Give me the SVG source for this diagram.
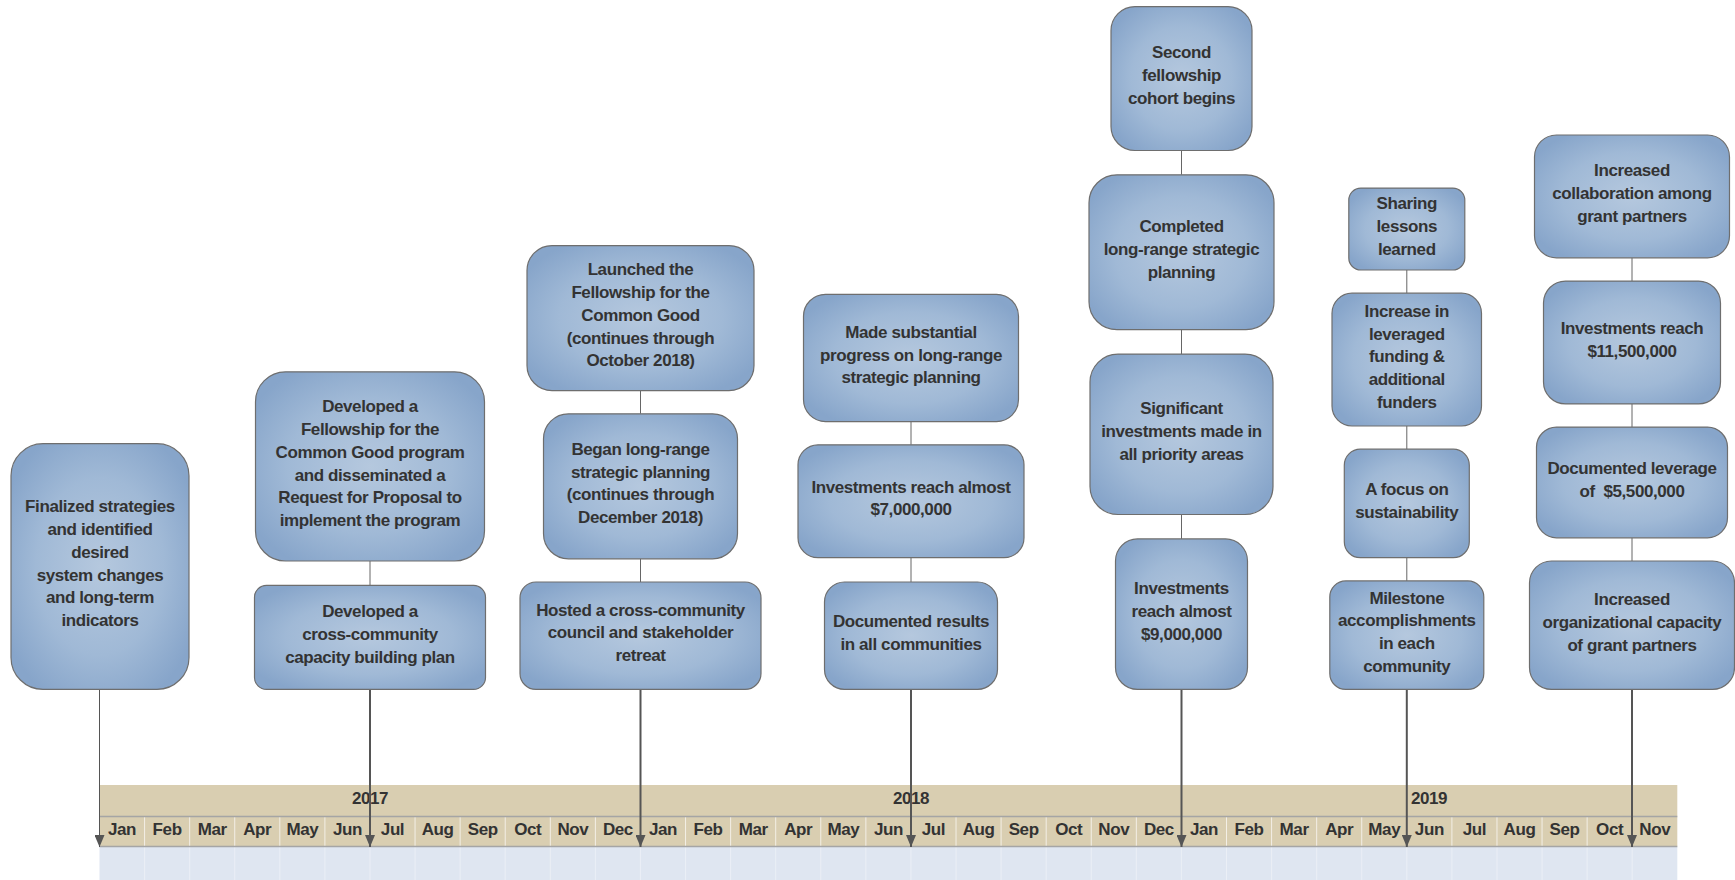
<svg xmlns="http://www.w3.org/2000/svg" width="1735" height="880" viewBox="0 0 1735 880">
<defs>
<radialGradient id="g" cx="0.5" cy="0.5" r="0.6">
<stop offset="0" stop-color="#b5c8de"/>
<stop offset="0.6" stop-color="#a0b9d6"/>
<stop offset="1" stop-color="#87a5ca"/>
</radialGradient>
<marker id="arr" viewBox="0 -5 12 10" refX="12" refY="0" markerWidth="12" markerHeight="10" markerUnits="userSpaceOnUse" orient="auto">
<path d="M0,-5 L12,0 L0,5 z" fill="#555"/>
</marker>
<style>
.box{fill:url(#g);stroke:#6e6e6e;stroke-width:1.2}
.t{font-family:"Liberation Sans",Arial,sans-serif;font-weight:bold;font-size:17px;letter-spacing:-0.4px;fill:#333;text-anchor:middle}
.link{stroke:#666;stroke-width:1;fill:none}
.stem{stroke:#555;stroke-width:2;fill:none;marker-end:url(#arr)}
.stem1{stroke:#555;stroke-width:1;fill:none;marker-end:url(#arr)}
.band{fill:#d9ceb1}
.lb{fill:#dfe6f1}
.md{stroke:#f3efe6;stroke-width:1}
.ld{stroke:#ebeff6;stroke-width:1}
.hl{stroke:#a5a5a5;stroke-width:1.5}
</style>
</defs>

<g id="timeline">
<rect class="band" x="99.5" y="785" width="1577.8" height="61.5"/>
<rect class="lb" x="99.5" y="846.5" width="1577.8" height="33.5"/>
<g id="month-dividers">
<path class="md" d="M144.58,816.5V846.5M189.66,816.5V846.5M234.74,816.5V846.5M279.82,816.5V846.5M324.9,816.5V846.5M369.98,816.5V846.5M415.06,816.5V846.5M460.14,816.5V846.5M505.22,816.5V846.5M550.3,816.5V846.5M595.38,816.5V846.5M640.46,816.5V846.5M685.54,816.5V846.5M730.62,816.5V846.5M775.7,816.5V846.5M820.78,816.5V846.5M865.86,816.5V846.5M910.94,816.5V846.5M956.02,816.5V846.5M1001.1,816.5V846.5M1046.18,816.5V846.5M1091.26,816.5V846.5M1136.34,816.5V846.5M1181.42,816.5V846.5M1226.5,816.5V846.5M1271.58,816.5V846.5M1316.66,816.5V846.5M1361.74,816.5V846.5M1406.82,816.5V846.5M1451.9,816.5V846.5M1496.98,816.5V846.5M1542.06,816.5V846.5M1587.14,816.5V846.5M1632.22,816.5V846.5"/>
<path class="ld" d="M144.58,847V880M189.66,847V880M234.74,847V880M279.82,847V880M324.9,847V880M369.98,847V880M415.06,847V880M460.14,847V880M505.22,847V880M550.3,847V880M595.38,847V880M640.46,847V880M685.54,847V880M730.62,847V880M775.7,847V880M820.78,847V880M865.86,847V880M910.94,847V880M956.02,847V880M1001.1,847V880M1046.18,847V880M1091.26,847V880M1136.34,847V880M1181.42,847V880M1226.5,847V880M1271.58,847V880M1316.66,847V880M1361.74,847V880M1406.82,847V880M1451.9,847V880M1496.98,847V880M1542.06,847V880M1587.14,847V880M1632.22,847V880"/>
</g>
<line class="hl" x1="99.5" y1="816.5" x2="1677.3" y2="816.5"/>
<line class="hl" x1="99.5" y1="846.5" x2="1677.3" y2="846.5"/>
<g id="years">
<text class="t" x="370" y="804">2017</text>
<text class="t" x="911" y="804">2018</text>
<text class="t" x="1429" y="804">2019</text>
</g>
<g id="months">
<text class="t" x="122.04" y="835">Jan</text>
<text class="t" x="167.12" y="835">Feb</text>
<text class="t" x="212.2" y="835">Mar</text>
<text class="t" x="257.28" y="835">Apr</text>
<text class="t" x="302.36" y="835">May</text>
<text class="t" x="347.44" y="835">Jun</text>
<text class="t" x="392.52" y="835">Jul</text>
<text class="t" x="437.6" y="835">Aug</text>
<text class="t" x="482.68" y="835">Sep</text>
<text class="t" x="527.76" y="835">Oct</text>
<text class="t" x="572.84" y="835">Nov</text>
<text class="t" x="617.92" y="835">Dec</text>
<text class="t" x="663" y="835">Jan</text>
<text class="t" x="708.08" y="835">Feb</text>
<text class="t" x="753.16" y="835">Mar</text>
<text class="t" x="798.24" y="835">Apr</text>
<text class="t" x="843.32" y="835">May</text>
<text class="t" x="888.4" y="835">Jun</text>
<text class="t" x="933.48" y="835">Jul</text>
<text class="t" x="978.56" y="835">Aug</text>
<text class="t" x="1023.64" y="835">Sep</text>
<text class="t" x="1068.72" y="835">Oct</text>
<text class="t" x="1113.8" y="835">Nov</text>
<text class="t" x="1158.88" y="835">Dec</text>
<text class="t" x="1203.96" y="835">Jan</text>
<text class="t" x="1249.04" y="835">Feb</text>
<text class="t" x="1294.12" y="835">Mar</text>
<text class="t" x="1339.2" y="835">Apr</text>
<text class="t" x="1384.28" y="835">May</text>
<text class="t" x="1429.36" y="835">Jun</text>
<text class="t" x="1474.44" y="835">Jul</text>
<text class="t" x="1519.52" y="835">Aug</text>
<text class="t" x="1564.6" y="835">Sep</text>
<text class="t" x="1609.68" y="835">Oct</text>
<text class="t" x="1654.76" y="835">Nov</text>
</g>
</g>

<g id="connectors">
<line class="stem1" x1="99.5" y1="689.4" x2="99.5" y2="847"/>
<line class="link" x1="370" y1="561" x2="370" y2="585.3"/>
<line class="stem" x1="370" y1="689.4" x2="370" y2="847"/>
<line class="link" x1="640.5" y1="390.6" x2="640.5" y2="413.8"/>
<line class="link" x1="640.5" y1="558.8" x2="640.5" y2="582"/>
<line class="stem" x1="640.5" y1="689.4" x2="640.5" y2="847"/>
<line class="link" x1="911" y1="421.6" x2="911" y2="444.8"/>
<line class="link" x1="911" y1="557.7" x2="911" y2="582"/>
<line class="stem" x1="911" y1="689.4" x2="911" y2="847"/>
<line class="link" x1="1181.5" y1="150.5" x2="1181.5" y2="174.8"/>
<line class="link" x1="1181.5" y1="329.7" x2="1181.5" y2="354.1"/>
<line class="link" x1="1181.5" y1="514.5" x2="1181.5" y2="538.9"/>
<line class="stem" x1="1181.5" y1="689.4" x2="1181.5" y2="847"/>
<line class="link" x1="1406.8" y1="270" x2="1406.8" y2="293.2"/>
<line class="link" x1="1406.8" y1="426" x2="1406.8" y2="449.2"/>
<line class="link" x1="1406.8" y1="557.7" x2="1406.8" y2="580.9"/>
<line class="stem" x1="1406.8" y1="689.4" x2="1406.8" y2="847"/>
<line class="link" x1="1632" y1="257.8" x2="1632" y2="281.1"/>
<line class="link" x1="1632" y1="403.9" x2="1632" y2="427.1"/>
<line class="link" x1="1632" y1="537.8" x2="1632" y2="561"/>
<line class="stem" x1="1632" y1="689.4" x2="1632" y2="847"/>
</g>

<g id="n1">
<rect class="box" x="11" y="443.7" width="178" height="245.7" rx="32"/>
<text class="t"><tspan x="100" y="512.25">Finalized strategies</tspan><tspan x="100" y="535.05">and identified</tspan><tspan x="100" y="557.85">desired</tspan><tspan x="100" y="580.65">system changes</tspan><tspan x="100" y="603.45">and long-term</tspan><tspan x="100" y="626.25">indicators</tspan></text>
</g>

<g id="n2a">
<rect class="box" x="255.5" y="371.8" width="229" height="189.2" rx="30"/>
<text class="t"><tspan x="370" y="412.1">Developed a</tspan><tspan x="370" y="434.9">Fellowship for the</tspan><tspan x="370" y="457.7">Common Good program</tspan><tspan x="370" y="480.5">and disseminated a</tspan><tspan x="370" y="503.3">Request for Proposal to</tspan><tspan x="370" y="526.1">implement the program</tspan></text>
</g>
<g id="n2b">
<rect class="box" x="254.5" y="585.3" width="231" height="104.1" rx="12"/>
<text class="t"><tspan x="370" y="617.25">Developed a</tspan><tspan x="370" y="640.05">cross-community</tspan><tspan x="370" y="662.85">capacity building plan</tspan></text>
</g>

<g id="n3a">
<rect class="box" x="527" y="245.6" width="227" height="145" rx="25"/>
<text class="t"><tspan x="640.5" y="275.2">Launched the</tspan><tspan x="640.5" y="298">Fellowship for the</tspan><tspan x="640.5" y="320.8">Common Good</tspan><tspan x="640.5" y="343.6">(continues through</tspan><tspan x="640.5" y="366.4">October 2018)</tspan></text>
</g>
<g id="n3b">
<rect class="box" x="543.5" y="413.8" width="194" height="145" rx="25"/>
<text class="t"><tspan x="640.5" y="454.8">Began long-range</tspan><tspan x="640.5" y="477.6">strategic planning</tspan><tspan x="640.5" y="500.4">(continues through</tspan><tspan x="640.5" y="523.2">December 2018)</tspan></text>
</g>
<g id="n3c">
<rect class="box" x="520" y="582" width="241" height="107.4" rx="16"/>
<text class="t"><tspan x="640.5" y="615.6">Hosted a cross-community</tspan><tspan x="640.5" y="638.4">council and stakeholder</tspan><tspan x="640.5" y="661.2">retreat</tspan></text>
</g>

<g id="n4a">
<rect class="box" x="803.5" y="294.3" width="215" height="127.3" rx="22"/>
<text class="t"><tspan x="911" y="337.85">Made substantial</tspan><tspan x="911" y="360.65">progress on long-range</tspan><tspan x="911" y="383.45">strategic planning</tspan></text>
</g>
<g id="n4b">
<rect class="box" x="798" y="444.8" width="226" height="112.9" rx="20"/>
<text class="t"><tspan x="911" y="492.55">Investments reach almost</tspan><tspan x="911" y="515.35">$7,000,000</tspan></text>
</g>
<g id="n4c">
<rect class="box" x="824.5" y="582" width="173" height="107.4" rx="20"/>
<text class="t"><tspan x="911" y="627">Documented results</tspan><tspan x="911" y="649.8">in all communities</tspan></text>
</g>

<g id="n5a">
<rect class="box" x="1111" y="6.6" width="141" height="143.9" rx="24"/>
<text class="t"><tspan x="1181.5" y="58.45">Second</tspan><tspan x="1181.5" y="81.25">fellowship</tspan><tspan x="1181.5" y="104.05">cohort begins</tspan></text>
</g>
<g id="n5b">
<rect class="box" x="1089" y="174.8" width="185" height="154.9" rx="28"/>
<text class="t"><tspan x="1181.5" y="232.15">Completed</tspan><tspan x="1181.5" y="254.95">long-range strategic</tspan><tspan x="1181.5" y="277.75">planning</tspan></text>
</g>
<g id="n5c">
<rect class="box" x="1090" y="354.1" width="183" height="160.4" rx="28"/>
<text class="t"><tspan x="1181.5" y="414.2">Significant</tspan><tspan x="1181.5" y="437">investments made in</tspan><tspan x="1181.5" y="459.8">all priority areas</tspan></text>
</g>
<g id="n5d">
<rect class="box" x="1115.5" y="538.9" width="132" height="150.5" rx="22"/>
<text class="t"><tspan x="1181.5" y="594.05">Investments</tspan><tspan x="1181.5" y="616.85">reach almost</tspan><tspan x="1181.5" y="639.65">$9,000,000</tspan></text>
</g>

<g id="n6a">
<rect class="box" x="1348.8" y="188.1" width="116" height="81.9" rx="12"/>
<text class="t"><tspan x="1406.8" y="208.95">Sharing</tspan><tspan x="1406.8" y="231.75">lessons</tspan><tspan x="1406.8" y="254.55">learned</tspan></text>
</g>
<g id="n6b">
<rect class="box" x="1332" y="293.2" width="149.5" height="132.8" rx="20"/>
<text class="t"><tspan x="1406.8" y="316.7">Increase in</tspan><tspan x="1406.8" y="339.5">leveraged</tspan><tspan x="1406.8" y="362.3">funding &amp;</tspan><tspan x="1406.8" y="385.1">additional</tspan><tspan x="1406.8" y="407.9">funders</tspan></text>
</g>
<g id="n6c">
<rect class="box" x="1344.3" y="449.2" width="125" height="108.5" rx="16"/>
<text class="t"><tspan x="1406.8" y="494.75">A focus on</tspan><tspan x="1406.8" y="517.55">sustainability</tspan></text>
</g>
<g id="n6d">
<rect class="box" x="1329.8" y="580.9" width="154" height="108.5" rx="16"/>
<text class="t"><tspan x="1406.8" y="603.65">Milestone</tspan><tspan x="1406.8" y="626.45">accomplishments</tspan><tspan x="1406.8" y="649.25">in each</tspan><tspan x="1406.8" y="672.05">community</tspan></text>
</g>

<g id="n7a">
<rect class="box" x="1534.5" y="135" width="195" height="122.8" rx="22"/>
<text class="t"><tspan x="1632" y="176.3">Increased</tspan><tspan x="1632" y="199.1">collaboration among</tspan><tspan x="1632" y="221.9">grant partners</tspan></text>
</g>
<g id="n7b">
<rect class="box" x="1543.5" y="281.1" width="177" height="122.8" rx="22"/>
<text class="t"><tspan x="1632" y="333.8">Investments reach</tspan><tspan x="1632" y="356.6">$11,500,000</tspan></text>
</g>
<g id="n7c">
<rect class="box" x="1536.5" y="427.1" width="191" height="110.7" rx="20"/>
<text class="t" xml:space="preserve"><tspan x="1632" y="473.75">Documented leverage</tspan><tspan x="1632" y="496.55">of  $5,500,000</tspan></text>
</g>
<g id="n7d">
<rect class="box" x="1529.5" y="561" width="205" height="128.4" rx="22"/>
<text class="t"><tspan x="1632" y="605.1">Increased</tspan><tspan x="1632" y="627.9">organizational capacity</tspan><tspan x="1632" y="650.7">of grant partners</tspan></text>
</g>
</svg>
